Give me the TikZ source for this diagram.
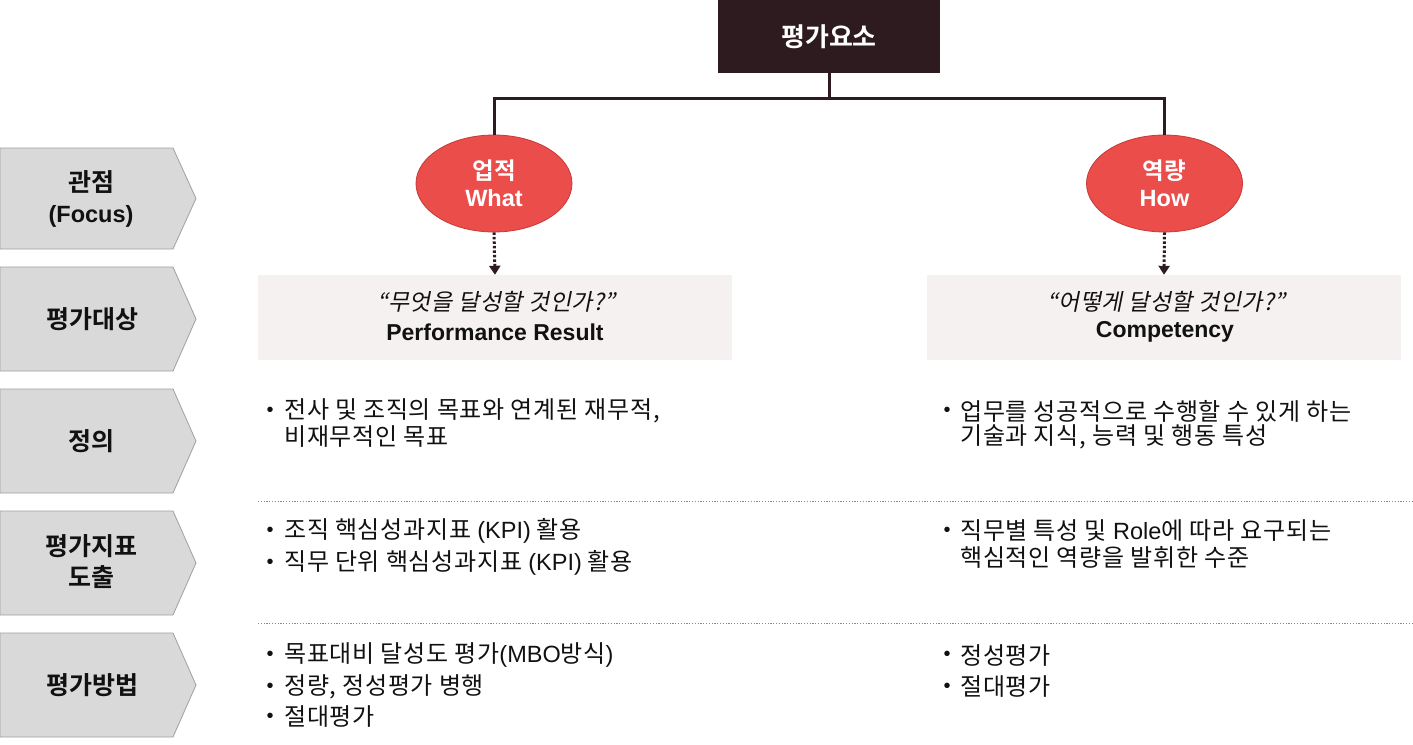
\documentclass[tikz,border=0pt]{standalone}
\usepackage{fontspec}
\setmainfont{Liberation Sans}
\newfontfamily\kr{Noto Sans CJK KR}[BoldFont={Noto Sans CJK KR Bold}]
\newfontfamily\krb{Noto Sans CJK KR}[LetterSpace=3]
\newfontfamily\kri{Noto Sans CJK KR}[FakeSlant=0.2, LetterSpace=2]
\usetikzlibrary{arrows.meta,shapes.geometric}
\definecolor{darkbox}{HTML}{2D1B1F}
\definecolor{redfill}{HTML}{EB4D4A}
\definecolor{redline}{HTML}{C63A38}
\definecolor{lightbox}{HTML}{F5F1F1}
\definecolor{chevfill}{HTML}{D9D9D9}
\definecolor{chevline}{HTML}{A0A0A0}
\definecolor{sepline}{HTML}{8C8C8C}
\definecolor{txt}{HTML}{111111}
\tikzset{
  x=1pt, y=-1pt,
  chev/.style={fill=chevfill, draw=chevline, line width=0.8pt},
  chevtext/.style={font=\kr\bfseries\fontsize{25}{31}\selectfont, align=center, text=txt},
  ell/.style={ellipse, fill=redfill, draw=redline, line width=0.8pt, minimum width=156pt, minimum height=97pt, inner sep=0pt},
  elltext/.style={font=\bfseries\fontsize{23.5}{30}\selectfont, text=white, align=center},
  qbox/.style={fill=lightbox, minimum width=474pt, minimum height=85pt, inner sep=0pt},
  bullet/.style={font=\krb\fontsize{24}{26}\selectfont, anchor=west, inner sep=0pt, text=txt, align=left},
  dot/.style={font=\fontsize{20}{20}\selectfont, inner sep=0pt, text=txt},
  conn/.style={draw=darkbox, line width=3pt},
  darr/.style={draw=darkbox, line width=3pt, dash pattern=on 2.5pt off 2pt, -{Triangle[width=11pt,length=9pt]}},
  sep/.style={draw=sepline, line width=1pt, dash pattern=on 1.2pt off 1.6pt},
}
\newcommand\lat[1]{{\rmfamily\fontsize{23.5}{26}\selectfont #1}}
\begin{document}
\begin{tikzpicture}
\useasboundingbox (0,0) rectangle (1413,744);
% top box
\node[fill=darkbox, minimum width=222pt, minimum height=73pt, inner sep=0pt, text=white, font=\kr\bfseries\fontsize{26}{30}\selectfont] (top) at (829,36.5) {평가요소};
% ellipses
\node[ell] (L) at (494,183.5) {};
\node[elltext] at (494,183.5) {{\kr 업적}\\[-3pt]What};
\node[ell] (R) at (1164.5,183.5) {};
\node[elltext] at (1164.5,183.5) {{\kr 역량}\\[-3pt]How};
% connectors
\draw[conn] (top.south) -- ++(0,25) coordinate (j) -| (L.north);
\draw[conn] (j) -| (R.north);
% quote boxes
\node[qbox] (QL) at (495,317.5) {};
\node[qbox] (QR) at (1164,317.5) {};
\node[font=\kri\fontsize{23}{28}\selectfont, text=txt] at (496,302) {“무엇을 달성할 것인가?”};
\node[font=\bfseries\fontsize{23}{28}\selectfont, text=txt] at (495,332) {Performance Result};
\node[font=\kri\fontsize{23}{28}\selectfont, text=txt] at (1166,302) {“어떻게 달성할 것인가?”};
\node[font=\bfseries\fontsize{23}{28}\selectfont, text=txt] at (1165,332) {Competency};
\draw[darr] (L.south) -- (QL.north);
\draw[darr] (R.south) -- (QR.north);
% chevrons
\foreach \t/\b [count=\i] in {148/249,267/371,389/493,511/615,633/737}{
  \draw[chev] (0,\t) -- (173,\t) -- (196,{(\t+\b)/2}) -- (173,\b) -- (0,\b) -- cycle;
}
\node[chevtext] (c1) at (91,198.5) {관점\\{\rmfamily\bfseries\fontsize{23.5}{31}\selectfont (Focus)}};
\node[chevtext] (c2) at (92,319) {평가대상};
\node[chevtext] (c3) at (91,441) {정의};
\node[chevtext] (c4) at (91,562) {평가지표\\도출};
\node[chevtext] (c5) at (92,685) {평가방법};
% separators
\draw[sep] (258,501) -- (1413,501);
\draw[sep] (258,623) -- (1413,623);
% bullets left
\foreach \y in {411,531,563,655,687,717} \node[dot] at (270,\y+1) {•};
\node[bullet] (l1) at (284,411) {전사 및 조직의 목표와 연계된 재무적,};
\node[bullet] (l2) at (284,437) {비재무적인 목표};
\node[bullet] (l3) at (284,531) {조직 핵심성과지표 \lat{(KPI)} 활용};
\node[bullet] (l4) at (284,563) {직무 단위 핵심성과지표 \lat{(KPI)} 활용};
\node[bullet] (l5) at (284,655) {목표대비 달성도 평가\lat{(MBO}방식\lat{)}};
\node[bullet] (l6) at (284,687) {정량, 정성평가 병행};
\node[bullet] (l7) at (284,717) {절대평가};
% bullets right
\foreach \y in {411,531,655,687} \node[dot] at (947,\y+1) {•};
\node[bullet] (r1) at (960,411) {업무를 성공적으로 수행할 수 있게 하는};
\node[bullet] (r2) at (960,437) {기술과 지식, 능력 및 행동 특성};
\node[bullet] (r3) at (960,531) {직무별 특성 및 \lat{Role}에 따라 요구되는};
\node[bullet] (r4) at (960,557) {핵심적인 역량을 발휘한 수준};
\node[bullet] (r5) at (960,655) {정성평가};
\node[bullet] (r6) at (960,687) {절대평가};
\end{tikzpicture}
\end{document}
